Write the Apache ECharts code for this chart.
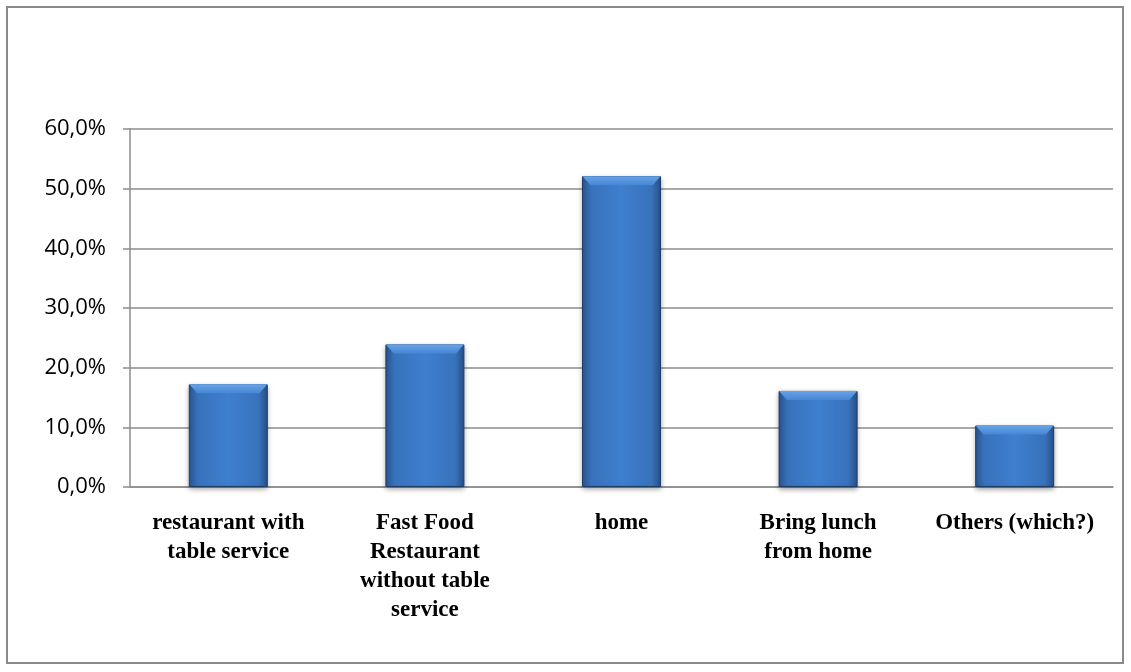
<!DOCTYPE html>
<html>
<head>
<meta charset="utf-8">
<script src="https://cdn.jsdelivr.net/npm/echarts@6/dist/echarts.min.js"></script>
<style>
html, body { margin: 0; padding: 0; background: #fff; }
#container { width: 1131px; height: 672px; }
</style>
</head>
<body>
<div id="container"></div>
<script>
var categories = [
    'restaurant with\ntable service',
    'Fast Food\nRestaurant\nwithout table\nservice',
    'home',
    'Bring lunch\nfrom home',
    'Others (which?)'
];
var shares = [0.172, 0.239, 0.521, 0.161, 0.103];

var dom = document.getElementById('container');
var myChart = echarts.init(dom);

var option = {
    backgroundColor: '#fff',
    animation: false,
    graphic: [{
        type: 'rect',
        shape: { x: 7, y: 7, width: 1116, height: 656 },
        style: { fill: 'none', stroke: '#8a8a8a', lineWidth: 2 }
    }],
    grid: { left: 130, right: 18, top: 129, bottom: 185 },
    xAxis: {
        type: 'category',
        data: categories,
        axisLine: { lineStyle: { color: '#8c8c8c', width: 1.5 } },
        axisTick: { length: 6, lineStyle: { color: '#8c8c8c', width: 1.5 } },
        axisLabel: {
            interval: 0,
            margin: 22,
            color: '#000',
            fontFamily: 'Liberation Serif',
            fontWeight: 'bold',
            fontSize: 23,
            lineHeight: 29
        }
    },
    yAxis: {
        type: 'value',
        min: 0,
        max: 0.6,
        interval: 0.1,
        axisLine: { show: true, lineStyle: { color: '#8c8c8c', width: 1.5 } },
        axisTick: { show: true, length: 7, lineStyle: { color: '#8c8c8c', width: 1.5 } },
        splitLine: { lineStyle: { color: '#8c8c8c', width: 1.5 } },
        axisLabel: {
            margin: 24,
            color: '#000',
            fontFamily: 'Open Sans',
            fontSize: 22,
            formatter: function (v) {
                return (v * 100).toFixed(1).replace('.', ',') + '%';
            }
        }
    },
    series: [
        {
            type: 'bar',
            data: shares,
            barWidth: 79,
            itemStyle: {
                color: {
                    type: 'linear', x: 0, y: 0, x2: 1, y2: 0,
                    colorStops: [
                        { offset: 0, color: '#2a5793' },
                        { offset: 0.12, color: '#3872bb' },
                        { offset: 0.5, color: '#3e7fcf' },
                        { offset: 0.88, color: '#3872bb' },
                        { offset: 1, color: '#28538c' }
                    ]
                },
                borderColor: '#1e3c66',
                borderWidth: 1,
                shadowColor: 'rgba(0,0,0,0.35)',
                shadowBlur: 5,
                shadowOffsetY: 2
            }
        },
        {
            // bevel highlight on top of each bar
            type: 'pictorialBar',
            data: shares,
            symbol: 'path://M0,0 L20,0 L18,2 L2,2 Z',
            symbolKeepAspect: false,
            symbolSize: [78, 9],
            symbolPosition: 'end',
            symbolOffset: [0, 0],
            z: 3,
            itemStyle: {
                color: {
                    type: 'linear', x: 0, y: 0, x2: 0, y2: 1,
                    colorStops: [
                        { offset: 0, color: '#65a3ea' },
                        { offset: 1, color: '#4886d4' }
                    ]
                }
            }
        }
    ]
};

myChart.setOption(option);
</script>
</body>
</html>
